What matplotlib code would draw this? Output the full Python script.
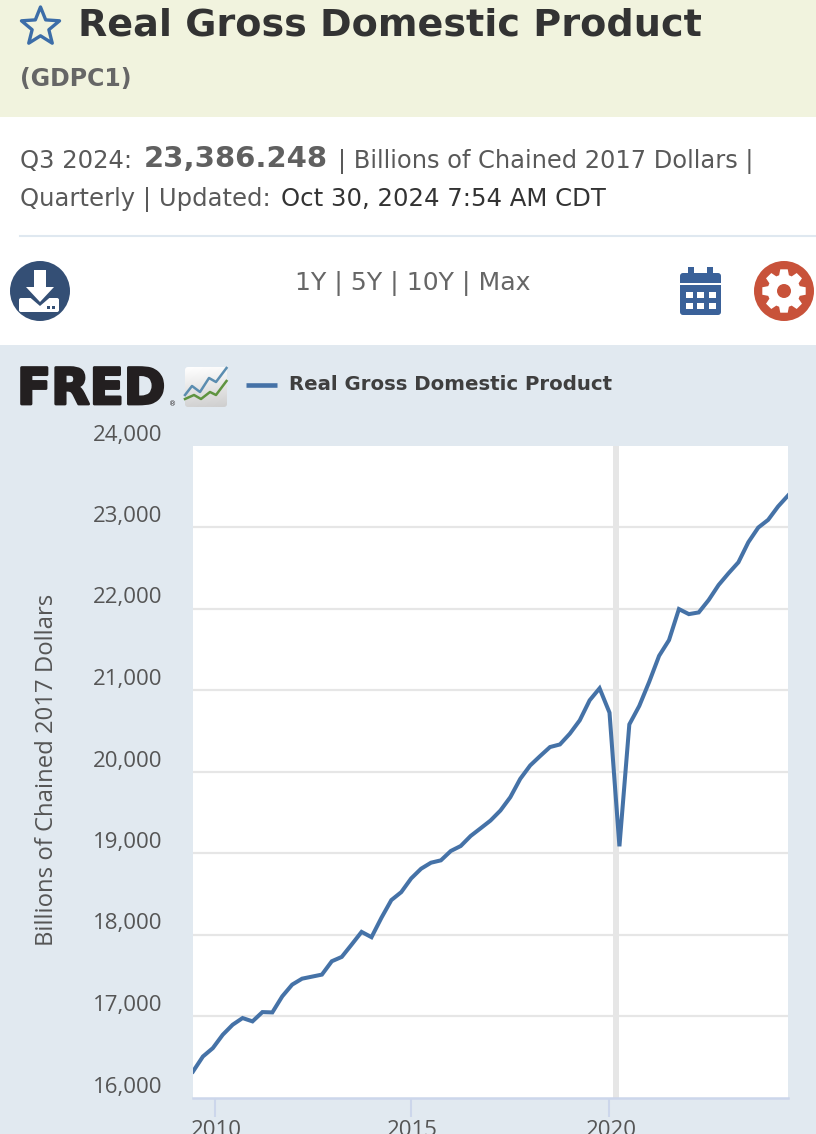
import matplotlib
matplotlib.use('Agg')
import matplotlib.pyplot as plt
import matplotlib.patheffects as pe
from matplotlib.patches import Rectangle, Circle, Polygon, FancyBboxPatch
from matplotlib.transforms import ScaledTranslation
import numpy as np

W, H = 816, 1134

# quarterly values, Q3 2009 .. Q3 2024
years = [2009.5 + i * 0.25 for i in range(61)]
gdp = [16319, 16503, 16606, 16770, 16893, 16975, 16934, 17048, 17044, 17241,
       17385, 17458, 17483, 17508, 17672, 17725, 17877, 18032, 17967, 18205,
       18422, 18520, 18688, 18807, 18881, 18910, 19025, 19086, 19209, 19303,
       19398, 19521, 19685, 19910, 20074, 20189, 20300, 20332, 20464, 20628,
       20874, 21021, 20722, 19082, 20578, 20804, 21099, 21419, 21612, 21993,
       21931, 21952, 22104, 22288, 22432, 22567, 22813, 22993, 23088, 23252,
       23386]
recession = (2020.09, 2020.25)
y_ticks = [16000, 17000, 18000, 19000, 20000, 21000, 22000, 23000, 24000]
x_ticks = [2010.05, 2015, 2020]
x_labels = ['2010', '2015', '2020']

PANEL = '#e1e9f0'
BLUE = '#4572a7'
GRID = '#e6e6e6'
TEXT = '#595959'
DARK = '#333333'
RED = '#c8523a'
SANS = 'DejaVu Sans'

fig = plt.figure(figsize=(W / 100, H / 100), dpi=100, facecolor='white')

# page furniture, in pixel coordinates
bg = fig.add_axes([0, 0, 1, 1])
bg.axis('off')
bg.add_patch(Rectangle((0, 0), W, 117, color='#f1f3de', lw=0))
bg.add_patch(Rectangle((0, 345), W, H - 345, color=PANEL, lw=0))
bg.plot([20, W], [236, 236], color='#dfe8f0', lw=1.5)

# star
ang = np.deg2rad(-90 + 36 * np.arange(10))
rad = np.where(np.arange(10) % 2 == 0, 20, 8.8)
bg.add_patch(Polygon(np.c_[40.5 + rad * np.cos(ang), 27 + rad * np.sin(ang)],
                     closed=True, fc='none', ec='#3c6da8', lw=2.4, joinstyle='round'))

bg.text(78, 26, 'Real Gross Domestic Product', fontsize=27.45, fontweight='bold',
        color=DARK, va='center', ha='left', family=SANS)
bg.text(20, 79, '(GDPC1)', fontsize=17, fontweight='bold', color='#666666',
        va='center', family=SANS)

bg.text(20, 161, 'Q3 2024:', fontsize=17.5, color=TEXT, va='center', family=SANS)
bg.text(144, 159, '23,386.248', fontsize=21, fontweight='bold', color='#606060',
        va='center', family=SANS)
bg.text(338, 161, '| Billions of Chained 2017 Dollars |', fontsize=17.4, color=TEXT,
        va='center', family=SANS)
bg.text(20, 199, 'Quarterly | Updated:', fontsize=17.5, color=TEXT, va='center', family=SANS)
bg.text(281, 199, 'Oct 30, 2024 7:54 AM CDT', fontsize=17.6, color=DARK, va='center',
        family=SANS)
bg.text(413, 283, '1Y | 5Y | 10Y | Max', fontsize=18.1, color='#666666', va='center',
        ha='center', family=SANS)

# download button
bg.add_patch(Circle((40, 291), 30, color='#344f75', lw=0))
bg.add_patch(FancyBboxPatch((19, 298), 40, 14, boxstyle='round,pad=0,rounding_size=2',
                            color='white', lw=0))
bg.add_patch(Polygon([(26, 294), (54, 294), (40, 306)], color='#344f75', lw=0))
bg.add_patch(Polygon([(34, 270), (46, 270), (46, 287), (54, 287), (40, 302), (26, 287), (34, 287)],
                     color='white', lw=0))
bg.add_patch(Rectangle((47, 306), 3, 2.5, color='#344f75', lw=0))
bg.add_patch(Rectangle((52, 306), 3, 2.5, color='#344f75', lw=0))

# calendar button
bg.add_patch(FancyBboxPatch((680, 273), 41, 42, boxstyle='round,pad=0,rounding_size=3',
                            color='#3a6199', lw=0))
bg.add_patch(Rectangle((680, 283), 41, 2, color='white', lw=0))
bg.add_patch(Rectangle((688, 267), 6, 9, color='#3a6199', lw=0))
bg.add_patch(Rectangle((707, 267), 6, 9, color='#3a6199', lw=0))
for cx in (685.5, 697, 708.5):
    for cy in (291.5, 303):
        bg.add_patch(Rectangle((cx, cy), 7, 6, color='white', lw=0))

# settings button
bg.add_patch(Circle((784, 291), 30, color=RED, lw=0))
teeth = []
for k in range(8):
    a = np.deg2rad(45 * k)
    for da, r in [(-0.30, 16.5), (-0.17, 22), (0.17, 22), (0.30, 16.5)]:
        teeth.append((784 + r * np.cos(a + da), 291 + r * np.sin(a + da)))
bg.add_patch(Polygon(teeth, color='white', lw=0))
bg.add_patch(Circle((784, 291), 7, color=RED, lw=0))

# FRED logo and legend
bg.text(17, 390, 'FRED', fontsize=36, fontweight='bold', color='#231f20', va='center',
        ha='left', family=SANS,
        path_effects=[pe.withStroke(linewidth=2, foreground='#231f20')])
bg.text(173, 404, '®', fontsize=5, color='#231f20', va='center', ha='center')
grad = np.linspace(0, 0.9, 40)[:, None] * np.ones((40, 44)) + np.linspace(0, 0.1, 44)[None, :]
icon = bg.imshow(1 - 0.19 * grad, extent=(185, 227, 407, 367), cmap='gray', vmin=0, vmax=1,
                 aspect='auto', zorder=2)
icon.set_clip_path(FancyBboxPatch((185, 367), 42, 40, boxstyle='round,pad=0,rounding_size=3',
                                  transform=bg.transData))
bg.plot([185, 192, 200, 209, 216, 226.5], [395, 386, 392, 378, 382, 368], color='#5b8db0',
        lw=1.8, zorder=3)
bg.plot([185, 194, 201, 210, 216, 226.5], [399, 395, 399, 392, 395, 381], color='#5f9440',
        lw=1.8, zorder=3)
bg.plot([246, 277], [385, 385], color=BLUE, lw=3.3, solid_capstyle='butt')
bg.text(289, 384, 'Real Gross Domestic Product', fontsize=14.2, fontweight='bold',
        color='#3f3f3f', va='center', family=SANS)
bg.set_xlim(0, W)
bg.set_ylim(H, 0)

# chart
ax = fig.add_axes([193 / W, 1 - 1097.5 / H, (788 - 193) / W, (1097.5 - 445.5) / H])
ax.set_facecolor('white')
ax.plot(years, gdp, color=BLUE, lw=2.9, solid_joinstyle='miter', zorder=4)
ax.axvspan(recession[0], recession[1], color=GRID, lw=0, zorder=1)
ax.set_xlim(2009.5, 2024.5)
ax.set_ylim(16000, 24000)
ax.set_yticks(y_ticks)
ax.set_yticklabels([f'{v:,}' for v in y_ticks])
ax.set_xticks(x_ticks)
ax.set_xticklabels(x_labels)
ax.grid(axis='y', color=GRID, lw=1.6, zorder=0)
ax.get_ygridlines()[-1].set_visible(False)
ax.get_ygridlines()[0].set_visible(False)
ax.set_axisbelow(True)
for s in ['top', 'right', 'left']:
    ax.spines[s].set_visible(False)
ax.spines['bottom'].set_color('#ccd6eb')
ax.spines['bottom'].set_linewidth(1.8)
ax.tick_params(axis='y', length=0, pad=21.8, labelsize=16, labelcolor='#555555')
ax.tick_params(axis='x', length=13.7, width=1.5, color='#ccd6eb', pad=2.5,
               labelsize=16, labelcolor='#555555')
for lbl in ax.get_yticklabels():
    lbl.set_family('Open Sans')
    lbl.set_transform(lbl.get_transform() + ScaledTranslation(0, 13 / 100, fig.dpi_scale_trans))
for lbl in ax.get_xticklabels():
    lbl.set_family('Open Sans')
    lbl.set_transform(lbl.get_transform() + ScaledTranslation(1.5 / 100, 0, fig.dpi_scale_trans))
bg.text(47, 770, 'Billions of Chained 2017 Dollars', rotation=90, fontsize=17.2,
        color='#555555', va='center', ha='center', family='Open Sans')

fig.savefig('out.png', dpi=100, facecolor='white')
